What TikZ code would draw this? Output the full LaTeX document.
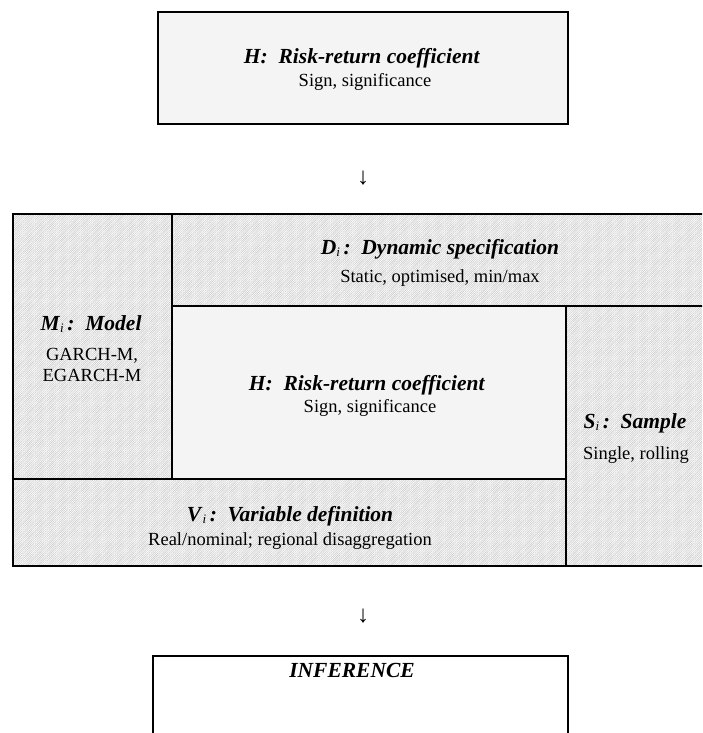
\documentclass[tikz,border=0pt]{standalone}
\usepackage{fontspec}
\setmainfont{Liberation Serif}
\usetikzlibrary{patterns.meta}
\definecolor{lightfill}{HTML}{F4F4F4}
\newcommand{\ttl}[2]{\textbf{\textit{#1}}{\raisebox{-0.3ex}{\fontsize{13pt}{13pt}\selectfont\textit{i}}}\textbf{\textit{\,:\ \ #2}}}
\tikzset{
  hatched/.style={fill=gray!10, pattern={Lines[angle=45,distance=1.3pt,line width=0.45pt]}, pattern color=gray!45},
  plain/.style={fill=lightfill},
  outer/.style={line width=2.4pt},
  inner/.style={line width=1.6pt},
  lbl/.style={align=center, inner sep=0pt, font=\fontsize{18.5}{21}\selectfont},
  ttlf/.style={align=center, inner sep=0pt, font=\fontsize{21.5}{24}\selectfont},
  arr/.style={inner sep=0pt, font=\fontsize{24}{24}\selectfont}
}
\begin{document}
\begin{tikzpicture}[x=1pt,y=-1pt]
\useasboundingbox (0,0) rectangle (702,733);
\begin{scope}
\clip (0,0) rectangle (702,733);
% top box
\fill[plain] (158,12) rectangle (568,124);
\draw[outer] (158,12) rectangle (568,124);
% big block regions
\fill[hatched] (13,214) rectangle (172,479);
\fill[hatched] (172,214) rectangle (710,306);
\fill[plain] (172,306) rectangle (566,479);
\fill[hatched] (566,306) rectangle (710,566);
\fill[hatched] (13,479) rectangle (566,566);
\draw[outer] (710,214) -- (13,214) -- (13,566) -- (710,566);
\draw[inner] (172,214) -- (172,479);
\draw[inner] (172,306) -- (710,306);
\draw[inner] (566,306) -- (566,566);
\draw[inner] (13,479) -- (566,479);
% bottom box
\draw[outer] (153,740) -- (153,656) -- (568,656) -- (568,740);
\end{scope}
% texts
\node[ttlf, anchor=base] (topt) at (362,64) {\textbf{\textit{H:\ \ Risk-return coefficient}}};
\node[lbl, anchor=base] (tops) at (365,87) {Sign, significance};
\node[arr, anchor=center] (a1) at (363,178) {↓};
\node[ttlf, anchor=base] (dt) at (440,254) {\ttl{D}{Dynamic specification}};
\node[lbl, anchor=base] (ds) at (440,282) {Static, optimised, min/max};
\node[ttlf, anchor=base] (mt) at (91,330) {\ttl{M}{Model}};
\node[lbl, anchor=base] (ms1) at (92,360) {GARCH-M,};
\node[lbl, anchor=base] (ms2) at (92,381) {EGARCH-M};
\node[ttlf, anchor=base] (ht) at (367,390) {\textbf{\textit{H:\ \ Risk-return coefficient}}};
\node[lbl, anchor=base] (hs) at (370,412) {Sign, significance};
\node[ttlf, anchor=base] (st) at (635,428) {\ttl{S}{Sample}};
\node[lbl, anchor=base] (ss) at (636,459) {Single, rolling};
\node[ttlf, anchor=base] (vt) at (290,521) {\ttl{V}{Variable definition}};
\node[lbl, anchor=base] (vs) at (290,545) {Real/nominal; regional disaggregation};
\node[arr, anchor=center] (a2) at (363,616) {↓};
\node[ttlf, anchor=base] (inf) at (352,677) {\textbf{\textit{INFERENCE}}};
\end{tikzpicture}
\end{document}
